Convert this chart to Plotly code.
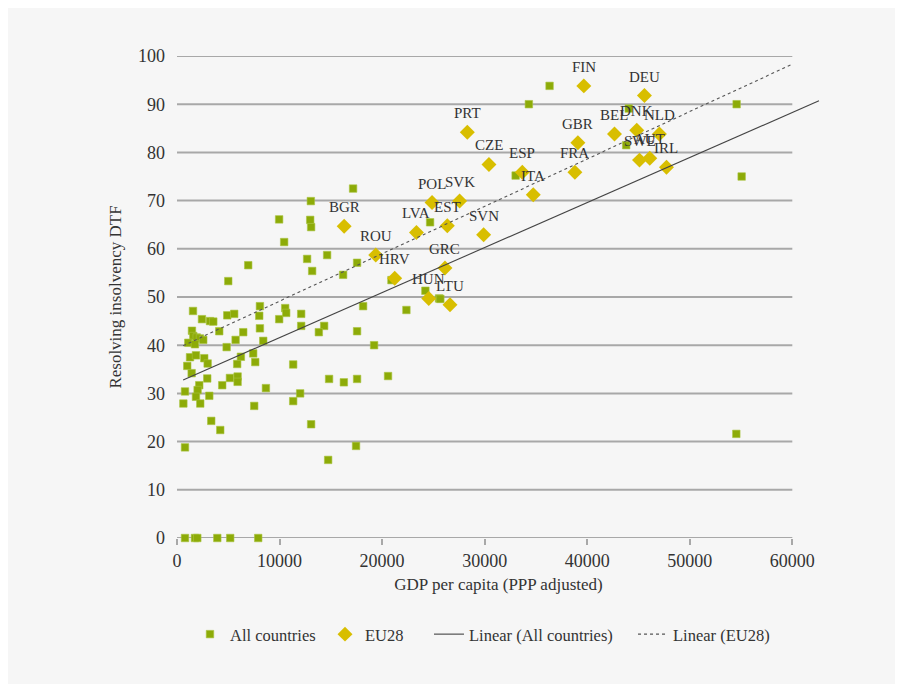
import plotly.graph_objects as go

# ---- data ----
all_gdp = [6945, 12690, 14640, 17560, 13180, 16200, 5000, 1560, 2435, 3215, 3540, 4900, 5580,
           8085, 8020, 9965, 10550, 10650, 12110, 18150, 22370, 1460, 1590, 1920, 2240, 2560,
           1100, 1750, 4120, 6460, 5715, 8085, 8410, 12110, 14350, 13830, 17560, 19220, 4840,
           1270, 1850, 2660, 2990, 1000, 1430, 6230, 5870, 7430, 7630, 11330, 2950, 5160, 5910,
           5910, 4410, 2170, 2010, 780, 8670, 14830, 16270, 17560, 20580, 1850, 3150, 620, 2270,
           7530, 12010, 11330, 3340, 4220, 13080, 780, 17460, 14740,
           780, 1750, 1980, 3930, 5190, 7920,
           17170, 13050, 9960, 12990, 13080, 10450, 24680, 20910, 24220, 25550, 25680,
           36330, 34310, 33020, 44050, 43800, 54570, 55060, 54540]
all_dtf = [56.6, 57.9, 58.7, 57.1, 55.4, 54.6, 53.3, 47.1, 45.4, 45.0, 44.9, 46.2, 46.5,
           48.1, 46.1, 45.4, 47.7, 46.7, 46.5, 48.1, 47.3, 43.0, 41.9, 41.6, 41.4, 41.1,
           40.5, 40.2, 42.9, 42.7, 41.1, 43.5, 40.9, 44.0, 44.0, 42.7, 42.9, 40.0, 39.6,
           37.5, 37.9, 37.3, 36.2, 35.7, 34.2, 37.6, 36.1, 38.3, 36.5, 36.0, 33.1, 33.2, 33.5,
           32.4, 31.7, 31.7, 30.7, 30.4, 31.1, 33.0, 32.3, 33.0, 33.6, 29.3, 29.5, 27.9, 27.9,
           27.4, 30.0, 28.4, 24.3, 22.4, 23.6, 18.8, 19.1, 16.2,
           0, 0, 0, 0, 0, 0,
           72.5, 69.9, 66.1, 66.0, 64.5, 61.4, 65.5, 53.5, 51.3, 49.7, 49.6,
           93.8, 90.0, 75.2, 89.1, 81.5, 90.0, 75.0, 21.6]

eu_codes = ["FIN", "DEU", "PRT", "CZE", "ESP", "ITA", "GBR", "FRA", "BEL", "DNK", "NLD", "SWE",
            "AUT", "IRL", "POL", "SVK", "EST", "LVA", "SVN", "GRC", "HRV", "HUN", "LTU", "BGR", "ROU"]
eu_gdp = [39670, 45580, 28310, 30420, 33670, 34740, 39090, 38800, 42660, 44830, 47040, 45100,
          46100, 47730, 24870, 27560, 26360, 23350, 29900, 26130, 21230, 24550, 26620, 16300, 19380]
eu_dtf = [93.8, 91.8, 84.2, 77.5, 75.9, 71.2, 82.0, 75.9, 83.8, 84.6, 83.8, 78.4,
          78.8, 76.9, 69.6, 69.9, 64.8, 63.4, 62.9, 56.0, 53.9, 49.7, 48.4, 64.7, 58.7]

trend_all_x = [600, 62600]
trend_all_y = [32.8, 90.7]
trend_eu_x = [600, 60000]
trend_eu_y = [39.9, 98.3]

x_ticks = [0, 10000, 20000, 30000, 40000, 50000, 60000]
y_ticks = [0, 10, 20, 30, 40, 50, 60, 70, 80, 90, 100]

series_names = ["All countries", "EU28", "Linear (All countries)", "Linear (EU28)"]

# ---- styles ----
FONT = "Liberation Serif"
BG = "#F6F6F6"
GRID = "#A8A8A8"
GREEN = "#8DAB08"
GOLD = "#D8BE00"
TXT = "#333333"
legend_x = [0.0202, 0.2302, 0.3919, 0.7092]

fig = go.Figure()

fig.add_trace(go.Scatter(
    x=all_gdp, y=all_dtf, mode="markers", name=series_names[0], legend="legend",
    marker=dict(symbol="square", size=7.5, color=GREEN, line=dict(width=0.6, color="#A9C440")),
    cliponaxis=False,
))
fig.add_trace(go.Scatter(
    x=eu_gdp, y=eu_dtf, mode="markers", name=series_names[1], legend="legend2",
    marker=dict(symbol="diamond", size=11.5, color=GOLD),
    cliponaxis=False,
))
fig.add_trace(go.Scatter(
    x=trend_all_x, y=trend_all_y, mode="lines", name=series_names[2], legend="legend3",
    line=dict(color="#444444", width=1.1),
))
fig.add_trace(go.Scatter(
    x=trend_eu_x, y=trend_eu_y, mode="lines", name=series_names[3], legend="legend4",
    line=dict(color="#555555", width=1.1, dash="3px,3px"),
))

# data labels above the EU diamonds
for code, gx, gy in zip(eu_codes, eu_gdp, eu_dtf):
    fig.add_annotation(x=gx, y=gy, text=code, showarrow=False, yshift=19,
                       font=dict(family=FONT, size=15, color=TXT))

# horizontal gridlines limited to 0..60000
for v in y_ticks:
    fig.add_shape(type="line", xref="x", yref="y", x0=0, x1=60000, y0=v, y1=v,
                  line=dict(color=GRID, width=2), layer="below")

leg_common = dict(orientation="h", y=-0.2, yanchor="middle", xanchor="left",
                  font=dict(family=FONT, size=16.5, color=TXT), bgcolor="rgba(0,0,0,0)",
                  itemwidth=30)

fig.update_layout(
    width=903, height=684,
    paper_bgcolor=BG, plot_bgcolor=BG,
    margin=dict(l=169, r=91, t=48, b=154, autoexpand=False),
    font=dict(family=FONT, size=15, color=TXT),
    showlegend=True,
    legend=dict(x=legend_x[0], **leg_common),
    legend2=dict(x=legend_x[1], **leg_common),
    legend3=dict(x=legend_x[2], **leg_common),
    legend4=dict(x=legend_x[3], **leg_common),
    xaxis=dict(range=[0, 62700], tickmode="array", tickvals=x_ticks,
               ticktext=[str(t) for t in x_ticks], showgrid=False, zeroline=False,
               showline=False, ticks="outside", ticklen=6, tickwidth=2, tickcolor=GRID,
               tickfont=dict(family=FONT, size=18, color=TXT),
               title=dict(text="GDP per capita (PPP adjusted)", standoff=8,
                          font=dict(family=FONT, size=17, color=TXT))),
    yaxis=dict(range=[0, 100], tickmode="array", tickvals=y_ticks,
               ticktext=[str(t) for t in y_ticks], showgrid=False, zeroline=False,
               showline=False, ticks="", ticklabelstandoff=11,
               tickfont=dict(family=FONT, size=18, color=TXT),
               title=dict(text="Resolving insolvency DTF", standoff=12,
                          font=dict(family=FONT, size=17, color=TXT))),
)

fig.write_html("out.html")
